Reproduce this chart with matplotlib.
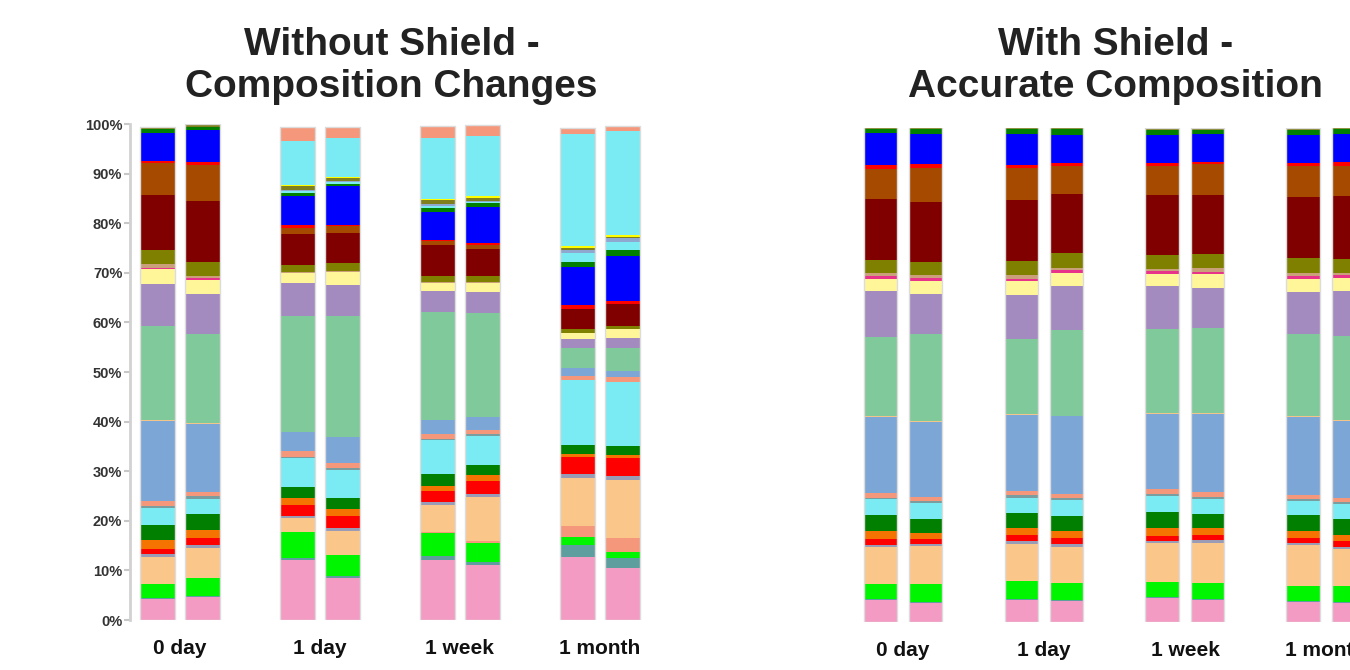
import numpy as np
import matplotlib.pyplot as plt

plt.rcParams['font.family'] = ['Liberation Sans', 'DejaVu Sans']

groups = ['0 day', '1 day', '1 week', '1 month']
ytick_vals = list(range(0, 101, 10))

# colours of the taxa, from bottom to top of each stack
taxa_colors = [
    '#F39BC3', '#5F9E9E', '#00F500', '#F4977A', '#FAC68A', '#9A9CB5',
    '#FF0000', '#F57300', '#007F00', '#7AEBF2', '#7A9EA0', '#F4977A',
    '#7BA6D6', '#F2C58A', '#80C99A', '#A38ABF', '#FFF599', '#E8338A',
    '#C9A07A', '#808000', '#800000', '#A64A00', '#FF0000', '#0000FF',
    '#007F00', '#7AEBF2', '#8FA8D0', '#7F7F20', '#FFFF00', '#7AEBF2',
    '#F4977A',
]

# Without Shield, two replicates per time point (% of reads per taxon)
wo_0day_a = [4.2, 0.2, 2.8, 0, 5.6, 0.5, 1.1, 1.7, 3.0, 3.4, 0.4, 1.0, 16.2, 0.3, 18.8, 8.5,
             3.0, 0.3, 0.7, 2.8, 11.1, 6.5, 0.4, 5.7, 0.8, 0, 0, 0.3, 0, 0, 0]
wo_0day_b = [4.7, 0.2, 3.6, 0, 6.1, 0.6, 1.4, 1.5, 3.3, 2.9, 0.6, 0.9, 13.7, 0.3, 17.8, 8.1,
             2.8, 0.5, 0.4, 2.7, 12.4, 7.3, 0.5, 6.4, 0.7, 0, 0, 0.5, 0, 0, 0]
wo_1day_a = [12.0, 0.5, 5.2, 0, 2.8, 0.4, 2.2, 1.5, 2.2, 5.8, 0.3, 1.1, 3.9, 0, 23.4, 6.7,
             2.0, 0, 0.2, 1.3, 6.3, 1.3, 0.5, 5.9, 0.5, 0.5, 0.2, 0.8, 0.2, 8.9, 2.7]
wo_1day_b = [8.4, 0.5, 4.2, 0, 4.8, 0.6, 2.4, 1.5, 2.2, 5.7, 0.3, 1.1, 5.1, 0, 24.4, 6.4,
             2.6, 0, 0.2, 1.6, 6.1, 1.3, 0.3, 7.8, 0.5, 0.3, 0.3, 0.6, 0.2, 7.7, 2.2]
wo_1week_a = [12.1, 0.9, 4.5, 0.3, 5.4, 0.5, 2.4, 1.0, 2.3, 6.8, 0.3, 1.0, 2.8, 0, 21.7, 4.4,
              1.6, 0, 0.2, 1.1, 6.3, 0.8, 0.3, 5.6, 0.7, 0.5, 0.4, 0.7, 0.3, 12.3, 2.4]
wo_1week_b = [11.1, 0.5, 4.0, 0.4, 8.8, 0.7, 2.6, 1.2, 1.9, 5.9, 0.3, 1.0, 2.5, 0, 20.9, 4.4,
              1.7, 0, 0.3, 1.2, 5.4, 0.8, 0.4, 7.2, 0.8, 0.3, 0.2, 0.6, 0.4, 12.0, 2.2]
wo_1month_a = [12.8, 2.4, 1.5, 2.2, 9.8, 0.8, 3.4, 0.5, 1.9, 13.0, 0, 0.8, 1.7, 0, 4.0, 1.8,
               1.3, 0, 0, 0.7, 4.2, 0, 0.8, 7.5, 1.0, 1.8, 0.6, 0.4, 0.5, 22.5, 1.2]
wo_1month_b = [10.4, 2.1, 1.3, 2.7, 11.7, 0.8, 3.6, 0.7, 1.7, 13.0, 0, 1.0, 1.3, 0, 4.6, 2.0,
               1.7, 0, 0, 0.7, 4.4, 0, 0.7, 8.9, 1.2, 1.8, 0.7, 0.3, 0.3, 21.0, 1.0]

# With Shield
w_0day_a = [4.4, 0.2, 3.0, 0, 7.5, 0.5, 1.2, 1.6, 3.2, 3.2, 0.4, 1.0, 15.3, 0.2, 16.0, 9.3,
            2.5, 0.5, 0.6, 2.7, 12.3, 6.2, 0.7, 6.4, 0.9, 0, 0, 0.5, 0, 0, 0]
w_0day_b = [3.8, 0.2, 3.6, 0, 7.7, 0.4, 1.1, 1.3, 2.8, 3.1, 0.5, 0.8, 15.1, 0.2, 17.8, 8.0,
            2.7, 0.5, 0.6, 2.6, 12.2, 6.9, 0.8, 6.1, 0.9, 0, 0, 0.5, 0, 0, 0]
w_1day_a = [4.4, 0.2, 3.7, 0, 7.5, 0.5, 1.3, 1.5, 2.9, 3.2, 0.5, 0.8, 15.5, 0.2, 15.0, 9.0,
            2.8, 0.5, 0.7, 2.8, 12.5, 6.4, 0.7, 6.2, 0.9, 0, 0, 0.5, 0, 0, 0]
w_1day_b = [4.2, 0.2, 3.4, 0, 7.4, 0.5, 1.3, 1.5, 3.0, 3.2, 0.5, 0.8, 15.6, 0.2, 17.4, 8.8,
            2.7, 0.5, 0.4, 3.0, 12.0, 5.7, 0.7, 5.6, 1.1, 0, 0, 0.5, 0, 0, 0]
w_1week_a = [4.8, 0.2, 3.0, 0, 7.9, 0.5, 1.1, 1.5, 3.2, 3.3, 0.4, 1.0, 15.3, 0.2, 17.0, 8.6,
             2.5, 0.5, 0.5, 2.8, 12.1, 5.9, 0.6, 5.6, 1.0, 0, 0, 0.5, 0, 0, 0]
w_1week_b = [4.4, 0.2, 3.3, 0, 8.1, 0.5, 1.2, 1.3, 2.8, 3.1, 0.4, 1.0, 15.8, 0.2, 17.2, 8.1,
             2.8, 0.5, 0.7, 2.8, 12.1, 6.2, 0.5, 5.5, 0.9, 0, 0, 0.5, 0, 0, 0]
w_1month_a = [4.0, 0.2, 3.1, 0, 8.2, 0.5, 1.1, 1.4, 3.2, 2.8, 0.5, 0.8, 15.6, 0.2, 16.7, 8.6,
              2.6, 0.5, 0.7, 3.0, 12.3, 6.3, 0.7, 5.6, 1.0, 0, 0, 0.5, 0, 0, 0]
w_1month_b = [3.8, 0.2, 3.2, 0, 7.5, 0.5, 1.1, 1.3, 3.2, 3.0, 0.4, 1.0, 15.5, 0.2, 17.0, 9.1,
              2.7, 0.5, 0.5, 2.7, 12.8, 6.2, 0.7, 5.7, 0.9, 0, 0, 0.5, 0, 0, 0]

without_bars = [wo_0day_a, wo_0day_b, wo_1day_a, wo_1day_b,
                wo_1week_a, wo_1week_b, wo_1month_a, wo_1month_b]
with_bars = [w_0day_a, w_0day_b, w_1day_a, w_1day_b,
             w_1week_a, w_1week_b, w_1month_a, w_1month_b]


def draw_stack(ax, bars, width, offset):
    data = np.array(bars).T  # rows = taxa, columns = samples
    xs = []
    for g in range(len(groups)):
        xs += [g - offset, g + offset]
    xs = np.array(xs)
    bottom = np.zeros(len(xs))
    for color, row in zip(taxa_colors, data):
        ax.bar(xs, row, bottom=bottom, width=width, color=color,
               edgecolor='none', linewidth=0)
        bottom += row
    # faint outline round each bar
    ax.bar(xs, bottom, width=width, fill=False, edgecolor='#dcdcdc', linewidth=1)


fig = plt.figure(figsize=(13.5, 6.7), dpi=100)

# left panel
ax1 = fig.add_axes([130 / 1350, 50 / 670, 530 / 1350, 496 / 670])
draw_stack(ax1, without_bars, 0.25, 0.16)
ax1.set_xlim(-0.357, 3.43)
ax1.set_ylim(0, 100)
ax1.set_yticks(ytick_vals)
ax1.set_yticklabels([f'{v}%' for v in ytick_vals], fontsize=10.5,
                    fontweight='bold', color='#333333')
ax1.tick_params(axis='y', length=4, width=1.5, color='#c8c8c8', pad=1.5)
ax1.set_xticks(range(len(groups)))
ax1.set_xticklabels(groups, fontsize=15, fontweight='bold', color='#111111')
ax1.tick_params(axis='x', length=0, pad=14)
for s in ['top', 'right', 'bottom']:
    ax1.spines[s].set_visible(False)
ax1.spines['left'].set_color('#d2d2d2')
ax1.spines['left'].set_linewidth(2)

# right panel (runs past the figure edge, as in the original)
ax2 = fig.add_axes([840 / 1350, 48 / 670, 610 / 1350, 494 / 670])
draw_stack(ax2, with_bars, 0.24, 0.16)
ax2.set_xlim(-0.447, 3.88)
ax2.set_ylim(0, 100)
ax2.set_yticks([])
ax2.set_xticks(range(len(groups)))
ax2.set_xticklabels(groups, fontsize=15, fontweight='bold', color='#111111')
ax2.tick_params(axis='x', length=0, pad=14)
for s in ['top', 'right', 'bottom', 'left']:
    ax2.spines[s].set_visible(False)

# titles
fig.text(391.5 / 1350, 1 - 55 / 670, 'Without Shield -', ha='center', va='baseline',
         fontsize=28, fontweight='bold', color='#222222')
fig.text(391.5 / 1350, 1 - 97 / 670, 'Composition Changes', ha='center', va='baseline',
         fontsize=28, fontweight='bold', color='#222222')
fig.text(1115.5 / 1350, 1 - 55 / 670, 'With Shield -', ha='center', va='baseline',
         fontsize=28, fontweight='bold', color='#222222')
fig.text(1115.5 / 1350, 1 - 97 / 670, 'Accurate Composition', ha='center', va='baseline',
         fontsize=28, fontweight='bold', color='#222222')

fig.savefig('out.png', dpi=100)
